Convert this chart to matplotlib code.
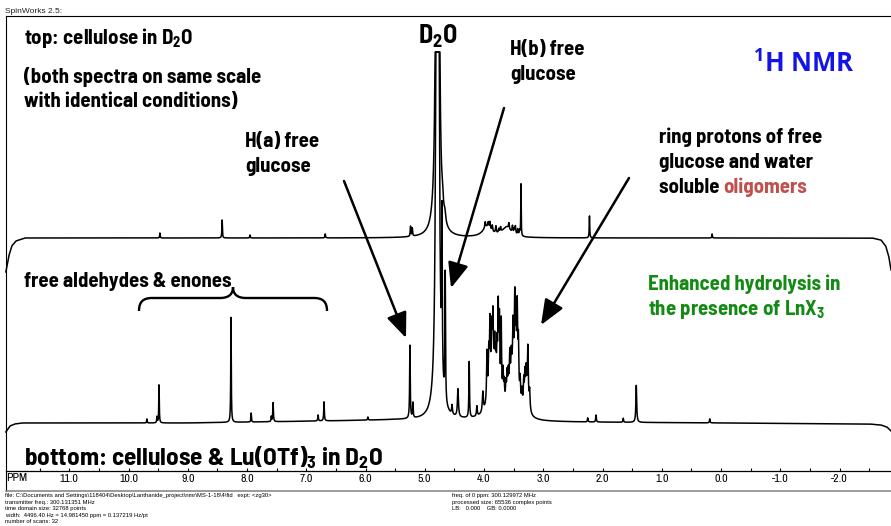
import numpy as np
import matplotlib
matplotlib.use("Agg")
import matplotlib.pyplot as plt
from matplotlib.path import Path
from matplotlib.patches import PathPatch

plt.rcParams['axes.unicode_minus'] = False
plt.rcParams['mathtext.default'] = 'regular'

W, H = 891, 526
DPI = 100

# ---------------- data ----------------
# top spectrum: cellulose in D2O  (ppm, height, half-width ppm)
top_ppm    = [9.47, 8.42, 7.95, 6.68, 5.24, 5.21, 4.785, 4.70, 4.66,
              3.95, 3.62, 3.98, 3.93, 3.90, 3.86, 3.80, 3.75, 3.72, 3.58, 3.52, 3.49,
              3.47, 3.43, 3.40, 3.376, 2.22, 0.15]
top_height = [5, 18, 3, 4, 10, 8, 15800, 12, 8,
              10, 10, 6, 5, 7, 6, 7, 4, 5, 6, 7, 5,
              8, 6, 5, 52, 22, 4]
top_width  = [0.005, 0.005, 0.005, 0.006, 0.006, 0.006, 0.0045, 0.015, 0.015,
              0.09, 0.09, 0.008, 0.008, 0.008, 0.008, 0.008, 0.008, 0.008, 0.008, 0.008, 0.008,
              0.008, 0.008, 0.008, 0.004, 0.005, 0.005]
top_base_ppm = [12.07, 12.02, 11.97, 11.90, 11.75, -2.55, -2.70, -2.78, -2.83, -2.87]
top_base_val = [-34, -18, -8, -3, 0, 0, -2, -8, -18, -32]

# bottom spectrum: cellulose & Lu(OTf)3 in D2O
bot_ppm    = [9.69, 9.52, 9.485, 8.27, 7.93, 7.59, 7.56, 6.80, 6.70, 5.96,
              5.25, 5.20, 4.785, 4.709, 4.655, 4.54, 4.44, 4.25, 4.12, 4.02,
              3.85, 3.50, 3.27,
              3.95, 3.92, 3.90, 3.87, 3.85, 3.82, 3.80, 3.78, 3.76, 3.74, 3.71,
              3.68, 3.66, 3.63, 3.61, 3.59, 3.565, 3.54, 3.51, 3.48, 3.46,
              3.44, 3.42, 3.39, 3.36, 3.33, 3.31, 3.29, 3.26, 3.23,
              2.25, 2.11, 1.65, 1.43, 0.19]
bot_height = [4, 6, 38, 105, 9, 5, 19, 6, 19, 3,
              73, 15, 16500, 160, 128, 9, 28, 56, 10, 20,
              45, 50, 22,
              49, 40, 63, 45, 54, 35, 28, 40, 83, 74, 79,
              30, 20, 18, 25, 23, 35, 25, 44, 72, 40,
              77, 51, 22, 15, 25, 30, 28, 48, 18,
              4, 7, 4, 37, 4]
bot_width  = [0.005, 0.005, 0.005, 0.005, 0.005, 0.005, 0.006, 0.006, 0.006, 0.006,
              0.006, 0.006, 0.0045, 0.006, 0.006, 0.008, 0.01, 0.006, 0.008, 0.01,
              0.07, 0.07, 0.03,
              0.008, 0.008, 0.008, 0.008, 0.008, 0.008, 0.008, 0.008, 0.008, 0.008, 0.008,
              0.008, 0.008, 0.008, 0.008, 0.008, 0.008, 0.008, 0.008, 0.008, 0.008,
              0.008, 0.008, 0.008, 0.008, 0.008, 0.008, 0.008, 0.008, 0.008,
              0.006, 0.006, 0.006, 0.008, 0.006]
bot_base_ppm = [12.07, 12.0, 11.92, 11.8, 9.0, 5.5, 4.0, 3.0, 0.0, -2.5, -2.7, -2.80, -2.87]
bot_base_val = [-11, -5, -3, -2, -2, 1, 0, -1, -2, -3, -4, -6, -10]

tick_major = [11.0, 10.0, 9.0, 8.0, 7.0, 6.0, 5.0, 4.0, 3.0, 2.0, 1.0, 0.0, -1.0, -2.0]

footer_left = ["file: C:\\Documents and Settings\\118404\\Desktop\\Lanthanide_project\\nmr\\MS-1-18\\4\\fid   expt: <zg30>",
               "transmitter freq.: 300.131351 MHz",
               "time domain size: 32768 points",
               "width:  4496.40 Hz = 14.981450 ppm = 0.137219 Hz/pt",
               "number of scans: 32"]
footer_right = ["freq. of 0 ppm: 300.129972 MHz",
                "processed size: 65536 complex points",
                "LB:   0.000    GB: 0.0000"]

# ---------------- geometry ----------------
PX0, PXPERPPM = 721.0, 59.25          # x pixel of 0 ppm, pixels per ppm
def ppm_at(px):
    return (PX0 - px) / PXPERPPM

BOT_BASE_Y = 421.0   # pixel row of bottom baseline
TOP_BASE_Y = 238.0   # pixel row of top baseline
CLIP_Y = 52.0

def spectrum(ppm_grid, pos, hts, wds, bp, bv):
    y = np.interp(ppm_grid, bp[::-1], bv[::-1])
    for p, h, w in zip(pos, hts, wds):
        y = y + h / (1.0 + ((ppm_grid - p) / w) ** 2)
    return y

grid = np.linspace(12.07, -2.87, 40000)
top_sig = spectrum(grid, top_ppm, top_height, top_width, top_base_ppm, top_base_val)
bot_sig = spectrum(grid, bot_ppm, bot_height, bot_width, bot_base_ppm, bot_base_val)

fig = plt.figure(figsize=(W / DPI, H / DPI), dpi=DPI)
fig.patch.set_facecolor('white')

sax = fig.add_axes([0, 0, 1, 1])
sax.set_xlim(ppm_at(0), ppm_at(W))
sax.set_ylim(-(H - BOT_BASE_Y), BOT_BASE_Y)
sax.axis('off')
lim = BOT_BASE_Y - CLIP_Y
off = BOT_BASE_Y - TOP_BASE_Y
sax.plot(grid, np.minimum(top_sig + off, lim), color='black', lw=1.1)
sax.plot(grid, np.minimum(bot_sig, lim), color='black', lw=1.1)

NF = ['Archivo Narrow', 'Liberation Sans']          # small narrow labels
BF = ['Barlow Semi Condensed', 'DejaVu Sans']      # bold condensed annotations

pax = fig.add_axes([0, (H - 471) / H, 1, 0.0001])
pax.set_xlim(ppm_at(0), ppm_at(W))
pax.set_ylim(0, 1)
pax.patch.set_alpha(0)
for s in ['top', 'left', 'right']:
    pax.spines[s].set_visible(False)
pax.spines['bottom'].set_bounds(ppm_at(6), ppm_at(W))
pax.spines['bottom'].set_linewidth(0.9)
pax.set_yticks([])
pax.set_xticks(tick_major)
pax.set_xticks(np.arange(11.5, -3.0, -0.5), minor=True)
pax.set_xticklabels(['%.1f' % t for t in tick_major], fontfamily=NF, fontsize=8.5)
pax.tick_params(axis='x', which='both', direction='in', length=2.5, width=0.8, pad=2)

ax = fig.add_axes([0, 0, 1, 1])
ax.set_xlim(0, W)
ax.set_ylim(H, 0)
ax.axis('off')
ax.patch.set_alpha(0)

ax.plot([6, W], [16, 16], color='black', lw=0.8)
ax.plot([6, 6], [16, 491], color='black', lw=0.8)
ax.plot([6, W], [491, 491], color='#8a8a8a', lw=1.2)

ax.text(5, 13, 'SpinWorks 2.5:', fontsize=6, family='Liberation Sans', color='#222222')
ax.text(6, 478, 'PPM', fontsize=8.5, family=NF, va='center')

renderer = fig.canvas.get_renderer()
def fit(t, target_w):
    """scale a text's font size so its rendered width matches the reference width"""
    w = t.get_window_extent(renderer).width
    if w > 0:
        t.set_fontsize(t.get_fontsize() * target_w / w)
    return t

fs = 14
kw = dict(family=BF, weight='bold')
ref = fit(ax.text(24, 83, '(both spectra on same scale', fontsize=fs, **kw), 238)
fs = ref.get_fontsize()
ax.text(24, 44, 'top: cellulose in D$_2$O', fontsize=fs, **kw)
ax.text(24, 107, 'with identical conditions)', fontsize=fs, **kw)
fit(ax.text(438, 44, 'D$_2$O', fontsize=fs, ha='center', **kw), 40)
ax.text(510, 55, 'H(b) free', fontsize=fs, **kw)
ax.text(510, 80, 'glucose', fontsize=fs, **kw)
fit(ax.text(753, 72, '$^1$H NMR', fontsize=19, family='Open Sans', weight='bold', color='#1414e6'), 102)
ax.text(245, 147, 'H(a) free', fontsize=fs, **kw)
ax.text(245, 172, 'glucose', fontsize=fs, **kw)
ax.text(659, 143, 'ring protons of free', fontsize=fs, **kw)
ax.text(659, 168, 'glucose and water', fontsize=fs, **kw)
t1 = ax.text(659, 193, 'soluble ', fontsize=fs, **kw)
ax.annotate('oligomers', xycoords=t1, xy=(1, 0), va='bottom', fontsize=fs,
            color='#c0504d', **kw)
ax.text(24, 287, 'free aldehydes & enones', fontsize=fs, **kw)
ax.text(648, 290, 'Enhanced hydrolysis in', fontsize=fs, color='#138a13', **kw)
ax.text(648, 315, 'the presence of LnX$_3$', fontsize=fs, color='#138a13', **kw)
fit(ax.text(24, 465, 'bottom: cellulose & Lu(OTf)$_3$ in D$_2$O', fontsize=18, **kw), 359)

verts = [(139, 311), (139, 302), (143, 298), (152, 298),
         (220, 298),
         (229, 298), (233, 294), (233, 287),
         (233, 294), (237, 298), (246, 298),
         (314, 298),
         (323, 298), (327, 302), (327, 311)]
codes = [Path.MOVETO, Path.CURVE4, Path.CURVE4, Path.CURVE4,
         Path.LINETO,
         Path.CURVE4, Path.CURVE4, Path.CURVE4,
         Path.CURVE4, Path.CURVE4, Path.CURVE4,
         Path.LINETO,
         Path.CURVE4, Path.CURVE4, Path.CURVE4]
ax.add_patch(PathPatch(Path(verts, codes), fill=False, lw=1.7, color='black'))

aprops = dict(arrowstyle='-|>,head_length=1.1,head_width=0.45', lw=1.8, color='black',
              mutation_scale=14, shrinkA=0, shrinkB=0)
ax.annotate('', xy=(406, 338), xytext=(344, 181), arrowprops=aprops)
ax.annotate('', xy=(451, 288), xytext=(504, 108), arrowprops=aprops)
ax.annotate('', xy=(541, 325), xytext=(629, 178), arrowprops=aprops)

FF = 'Liberation Sans'
for i, s in enumerate(footer_left):
    ax.text(5, 495.5 + i * 6.6, s, fontsize=4.2, family=FF, va='center')
for i, s in enumerate(footer_right):
    ax.text(452, 495.5 + i * 6.6, s, fontsize=4.2, family=FF, va='center')

fig.savefig('out.png', dpi=DPI, facecolor='white')
